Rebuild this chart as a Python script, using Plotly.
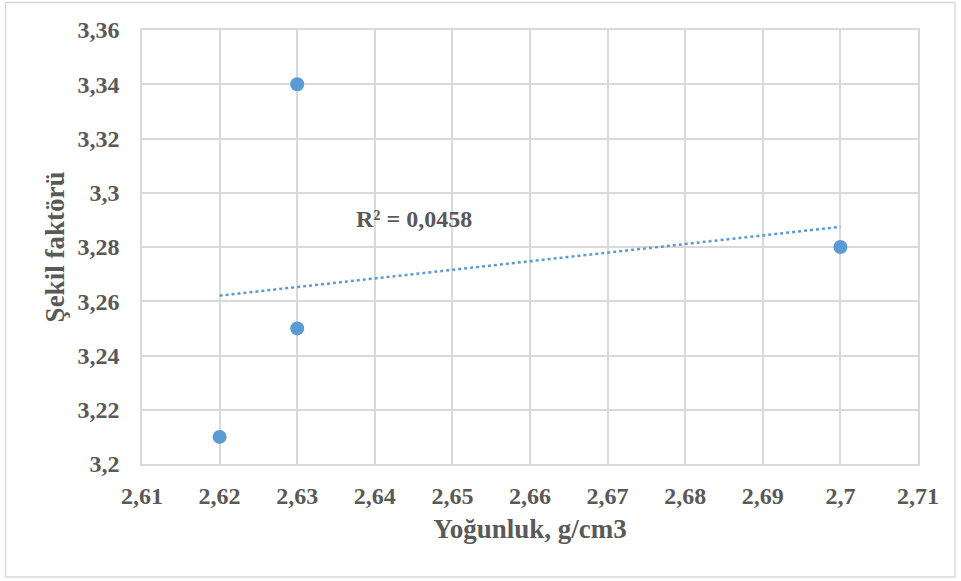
import numpy as np
import plotly.graph_objects as go

# Density (g/cm3) and shape factor measurements
yogunluk = [2.62, 2.63, 2.63, 2.70]
sekil_faktoru = [3.21, 3.34, 3.25, 3.28]

x_ticks = [2.61, 2.62, 2.63, 2.64, 2.65, 2.66, 2.67, 2.68, 2.69, 2.70, 2.71]
x_labels = ["2,61", "2,62", "2,63", "2,64", "2,65", "2,66", "2,67", "2,68", "2,69", "2,7", "2,71"]
y_ticks = [3.20, 3.22, 3.24, 3.26, 3.28, 3.30, 3.32, 3.34, 3.36]
y_labels = ["3,2", "3,22", "3,24", "3,26", "3,28", "3,3", "3,32", "3,34", "3,36"]

# Linear least-squares trend line and its R²
x = np.array(yogunluk)
y = np.array(sekil_faktoru)
slope, intercept = np.polyfit(x, y, 1)
fit = slope * x + intercept
r2 = 1 - np.sum((y - fit) ** 2) / np.sum((y - y.mean()) ** 2)
trend_x = [x.min(), x.max()]
trend_y = [slope * v + intercept for v in trend_x]
r2_text = "R² = " + f"{r2:.4f}".replace(".", ",")

BLUE = "#5b9bd5"
GRID = "#d9d9d9"
TEXT = "#595959"
FONT = "Liberation Serif, Times New Roman, serif"

fig = go.Figure()
fig.add_trace(go.Scatter(
    x=trend_x, y=trend_y, mode="lines",
    line=dict(color=BLUE, width=2.5, dash="dot"),
    hoverinfo="skip", showlegend=False,
))
fig.add_trace(go.Scatter(
    x=yogunluk, y=sekil_faktoru, mode="markers",
    marker=dict(color=BLUE, size=14),
    showlegend=False,
))

fig.add_annotation(
    x=2.6450, y=3.2905, xref="x", yref="y", text="<b>" + r2_text + "</b>", showarrow=False,
    font=dict(family=FONT, size=24, color=TEXT),
)

# Chart frame
fig.add_shape(
    type="rect", xref="paper", yref="paper",
    x0=-0.1759, x1=1.0477, y0=-0.2604, y1=1.0634,
    line=dict(color=GRID, width=1.5), fillcolor="rgba(0,0,0,0)", layer="below",
)

fig.update_layout(
    width=961, height=581,
    margin=dict(l=142, r=43, t=30, b=117),
    paper_bgcolor="white", plot_bgcolor="white",
    font=dict(family=FONT, color=TEXT, size=18),
    xaxis=dict(
        range=[2.61, 2.71], tickvals=x_ticks,
        ticktext=["<b>" + t + "</b>" for t in x_labels],
        showgrid=True, gridcolor=GRID, gridwidth=1.5,
        showline=True, linecolor=GRID, linewidth=1.5, mirror=True,
        zeroline=False, ticks="", ticklabelstandoff=9,
        tickfont=dict(family=FONT, size=24, color=TEXT),
        title=dict(text="<b>Yoğunluk, g/cm3</b>", standoff=12,
                   font=dict(family=FONT, size=27, color=TEXT)),
    ),
    yaxis=dict(
        range=[3.20, 3.36], tickvals=y_ticks,
        ticktext=["<b>" + t + "</b>" for t in y_labels],
        showgrid=True, gridcolor=GRID, gridwidth=1.5,
        showline=True, linecolor=GRID, linewidth=1.5, mirror=True,
        zeroline=False, ticks="", ticklabelstandoff=16,
        tickfont=dict(family=FONT, size=24, color=TEXT),
        title=dict(text="<b>Şekil faktörü</b>", standoff=5,
                   font=dict(family=FONT, size=27, color=TEXT)),
    ),
)

fig.write_html("out.html")
